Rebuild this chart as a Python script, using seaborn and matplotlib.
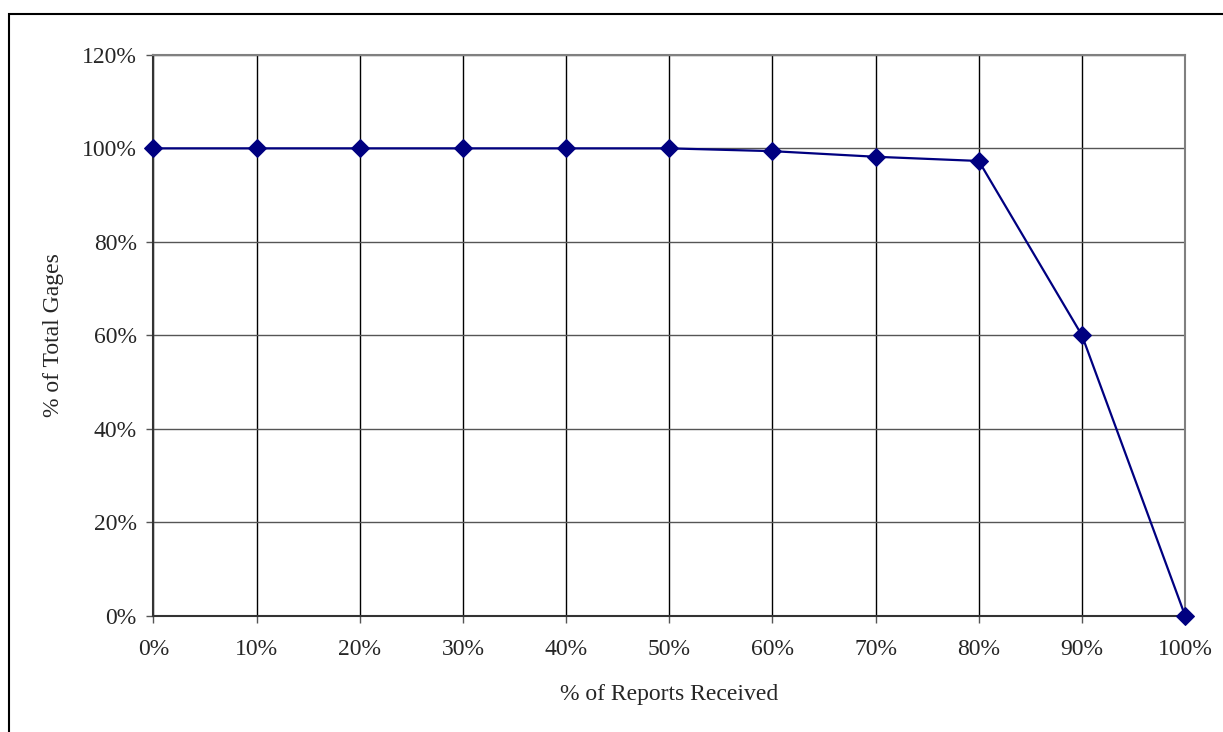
"""
Line chart: share of total gages vs. share of reports received
"""
import pandas as pd
import numpy as np
import matplotlib.pyplot as plt
import matplotlib.ticker as mtick
from matplotlib.patches import Rectangle
import seaborn as sns

sns.set_style("white")
plt.rcParams['font.family'] = ['Liberation Serif', 'DejaVu Serif']

# Data
reports_received = [0, 10, 20, 30, 40, 50, 60, 70, 80, 90, 100]
total_gages = [100, 100, 100, 100, 100, 100, 99.4, 98.2, 97.3, 60, 0]

df = pd.DataFrame({'reports': reports_received, 'gages': total_gages})

fig = plt.figure(figsize=(12.23, 7.32), dpi=100)
ax = fig.add_axes([0.1255, 0.159, 0.8435, 0.766])

sns.lineplot(data=df, x='reports', y='gages', ax=ax, color='#000080',
             marker='D', markersize=9, markeredgecolor='#000080',
             linewidth=1.6, clip_on=False, zorder=5)

ax.set_xlim(0, 100)
ax.set_ylim(0, 120)
ax.set_xticks(reports_received)
ax.set_yticks(np.arange(0, 121, 20))
ax.xaxis.set_major_formatter(mtick.PercentFormatter(decimals=0))
ax.yaxis.set_major_formatter(mtick.PercentFormatter(decimals=0))

# Excel-like grid
ax.grid(True, axis='x', color='black', linewidth=1)
ax.grid(True, axis='y', color='#555555', linewidth=1)
ax.set_axisbelow(True)
for side in ['top', 'right']:
    ax.spines[side].set_color('#808080')
    ax.spines[side].set_linewidth(1.5)
for side in ['left', 'bottom']:
    ax.spines[side].set_color('#333333')
    ax.spines[side].set_linewidth(1.5)

ax.tick_params(axis='both', direction='out', length=5, width=1,
               color='#555555', labelsize=17, bottom=True, left=True)
ax.tick_params(axis='x', pad=12)
ax.tick_params(axis='y', pad=7)
ax.set_xlabel('% of Reports Received', fontsize=17, labelpad=17)
ax.set_ylabel('% of Total Gages', fontsize=17, labelpad=13)

# outer chart border
fig.patches.append(Rectangle((9 / 1223, -0.05), 1.05, 0.05 + 1 - 14 / 732,
                             transform=fig.transFigure, fill=False,
                             edgecolor='black', linewidth=1.5))

plt.savefig('out.png', dpi=100)
